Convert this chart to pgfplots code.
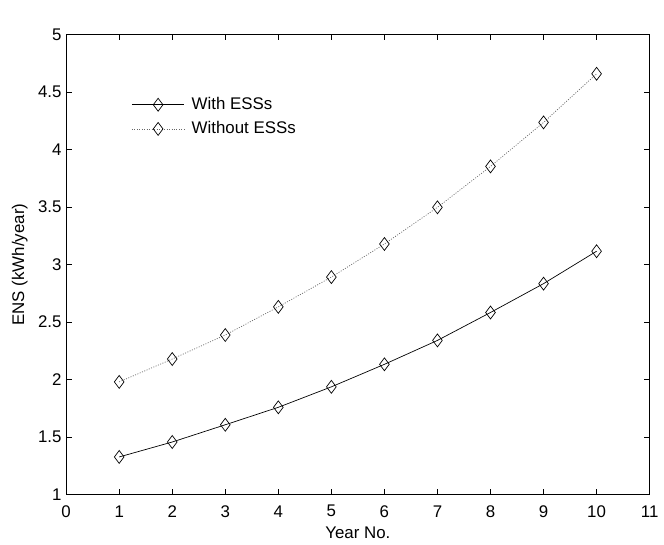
\documentclass[border=0pt]{standalone}
\usepackage{fontspec}
\setmainfont{Liberation Sans}
\usepackage{pgfplots}
\pgfplotsset{compat=1.18}
\begin{document}
\fontsize{17bp}{20bp}\selectfont
\begin{tikzpicture}
\begin{axis}[
  scale only axis,
  width=588.3bp, height=463.5bp,
  xmin=0, xmax=11, ymin=1, ymax=5,
  xtick={0,1,2,3,4,5,6,7,8,9,10,11},
  ytick={1,1.5,2,2.5,3,3.5,4,4.5,5},
  xtick pos=both, ytick pos=both,
  tick align=inside,
  major tick length=5.5bp,
  axis line style={line width=0.8bp},
  every tick/.style={black, line width=0.6bp},
  /pgf/number format/assume math mode=true,
  tick label style={font=\fontsize{17bp}{20bp}\selectfont},
  xticklabel style={anchor=center, yshift=-17bp},
  yticklabel style={inner sep=4.5bp},
  xlabel={Year No.}, ylabel={ENS (kWh/year)},
  every axis x label/.style={at={(axis description cs:0.5,-0.0841)}, anchor=center, font=\fontsize{17bp}{20bp}\selectfont},
  every axis y label/.style={at={(axis description cs:-0.0794,0.5)}, anchor=center, rotate=90, font=\fontsize{17bp}{20bp}\selectfont},
  legend style={draw=none, fill=none, at={(rel axis cs:0,1)}, anchor=north west, xshift=62.7bp, yshift=-59bp, row sep=5.5bp, font=\fontsize{17bp}{20bp}\selectfont, /tikz/every odd column/.append style={column sep=5bp}},
  legend cell align=left,
  legend image code/.code={\draw[mark repeat=2, mark phase=2, #1] plot coordinates {(0bp,0bp) (26.5bp,0bp) (53bp,0bp)};},
]
\addplot[black, line width=0.7bp, mark=diamond, mark size=6.5bp, mark options={solid, black, line width=0.7bp}] coordinates {
(1,1.326) (2,1.456) (3,1.606) (4,1.758) (5,1.936) (6,2.132) (7,2.340) (8,2.583) (9,2.834) (10,3.116)};
\addlegendentry{With ESSs}
\addplot[black!60, line width=0.7bp, dash pattern=on 1bp off 1.5bp, mark=diamond, mark size=6.5bp, mark options={solid, black, line width=0.7bp}] coordinates {
(1,1.979) (2,2.178) (3,2.387) (4,2.632) (5,2.891) (6,3.179) (7,3.498) (8,3.854) (9,4.237) (10,4.660)};
\addlegendentry{Without ESSs}
\coordinate (bl) at (rel axis cs:0,0);
\coordinate (tr) at (rel axis cs:1,1);
\node[anchor=base west, inner sep=0pt, xshift=1.5bp, yshift=6.7bp, font=\fontsize{17bp}{20bp}\selectfont] at (rel axis cs:0,1) {x 10\textsuperscript{6}};
\end{axis}
\path[use as bounding box] ([shift={(-66.7bp,-50.5bp)}]bl) rectangle ([shift={(9bp,35bp)}]tr);
\end{tikzpicture}
\end{document}
